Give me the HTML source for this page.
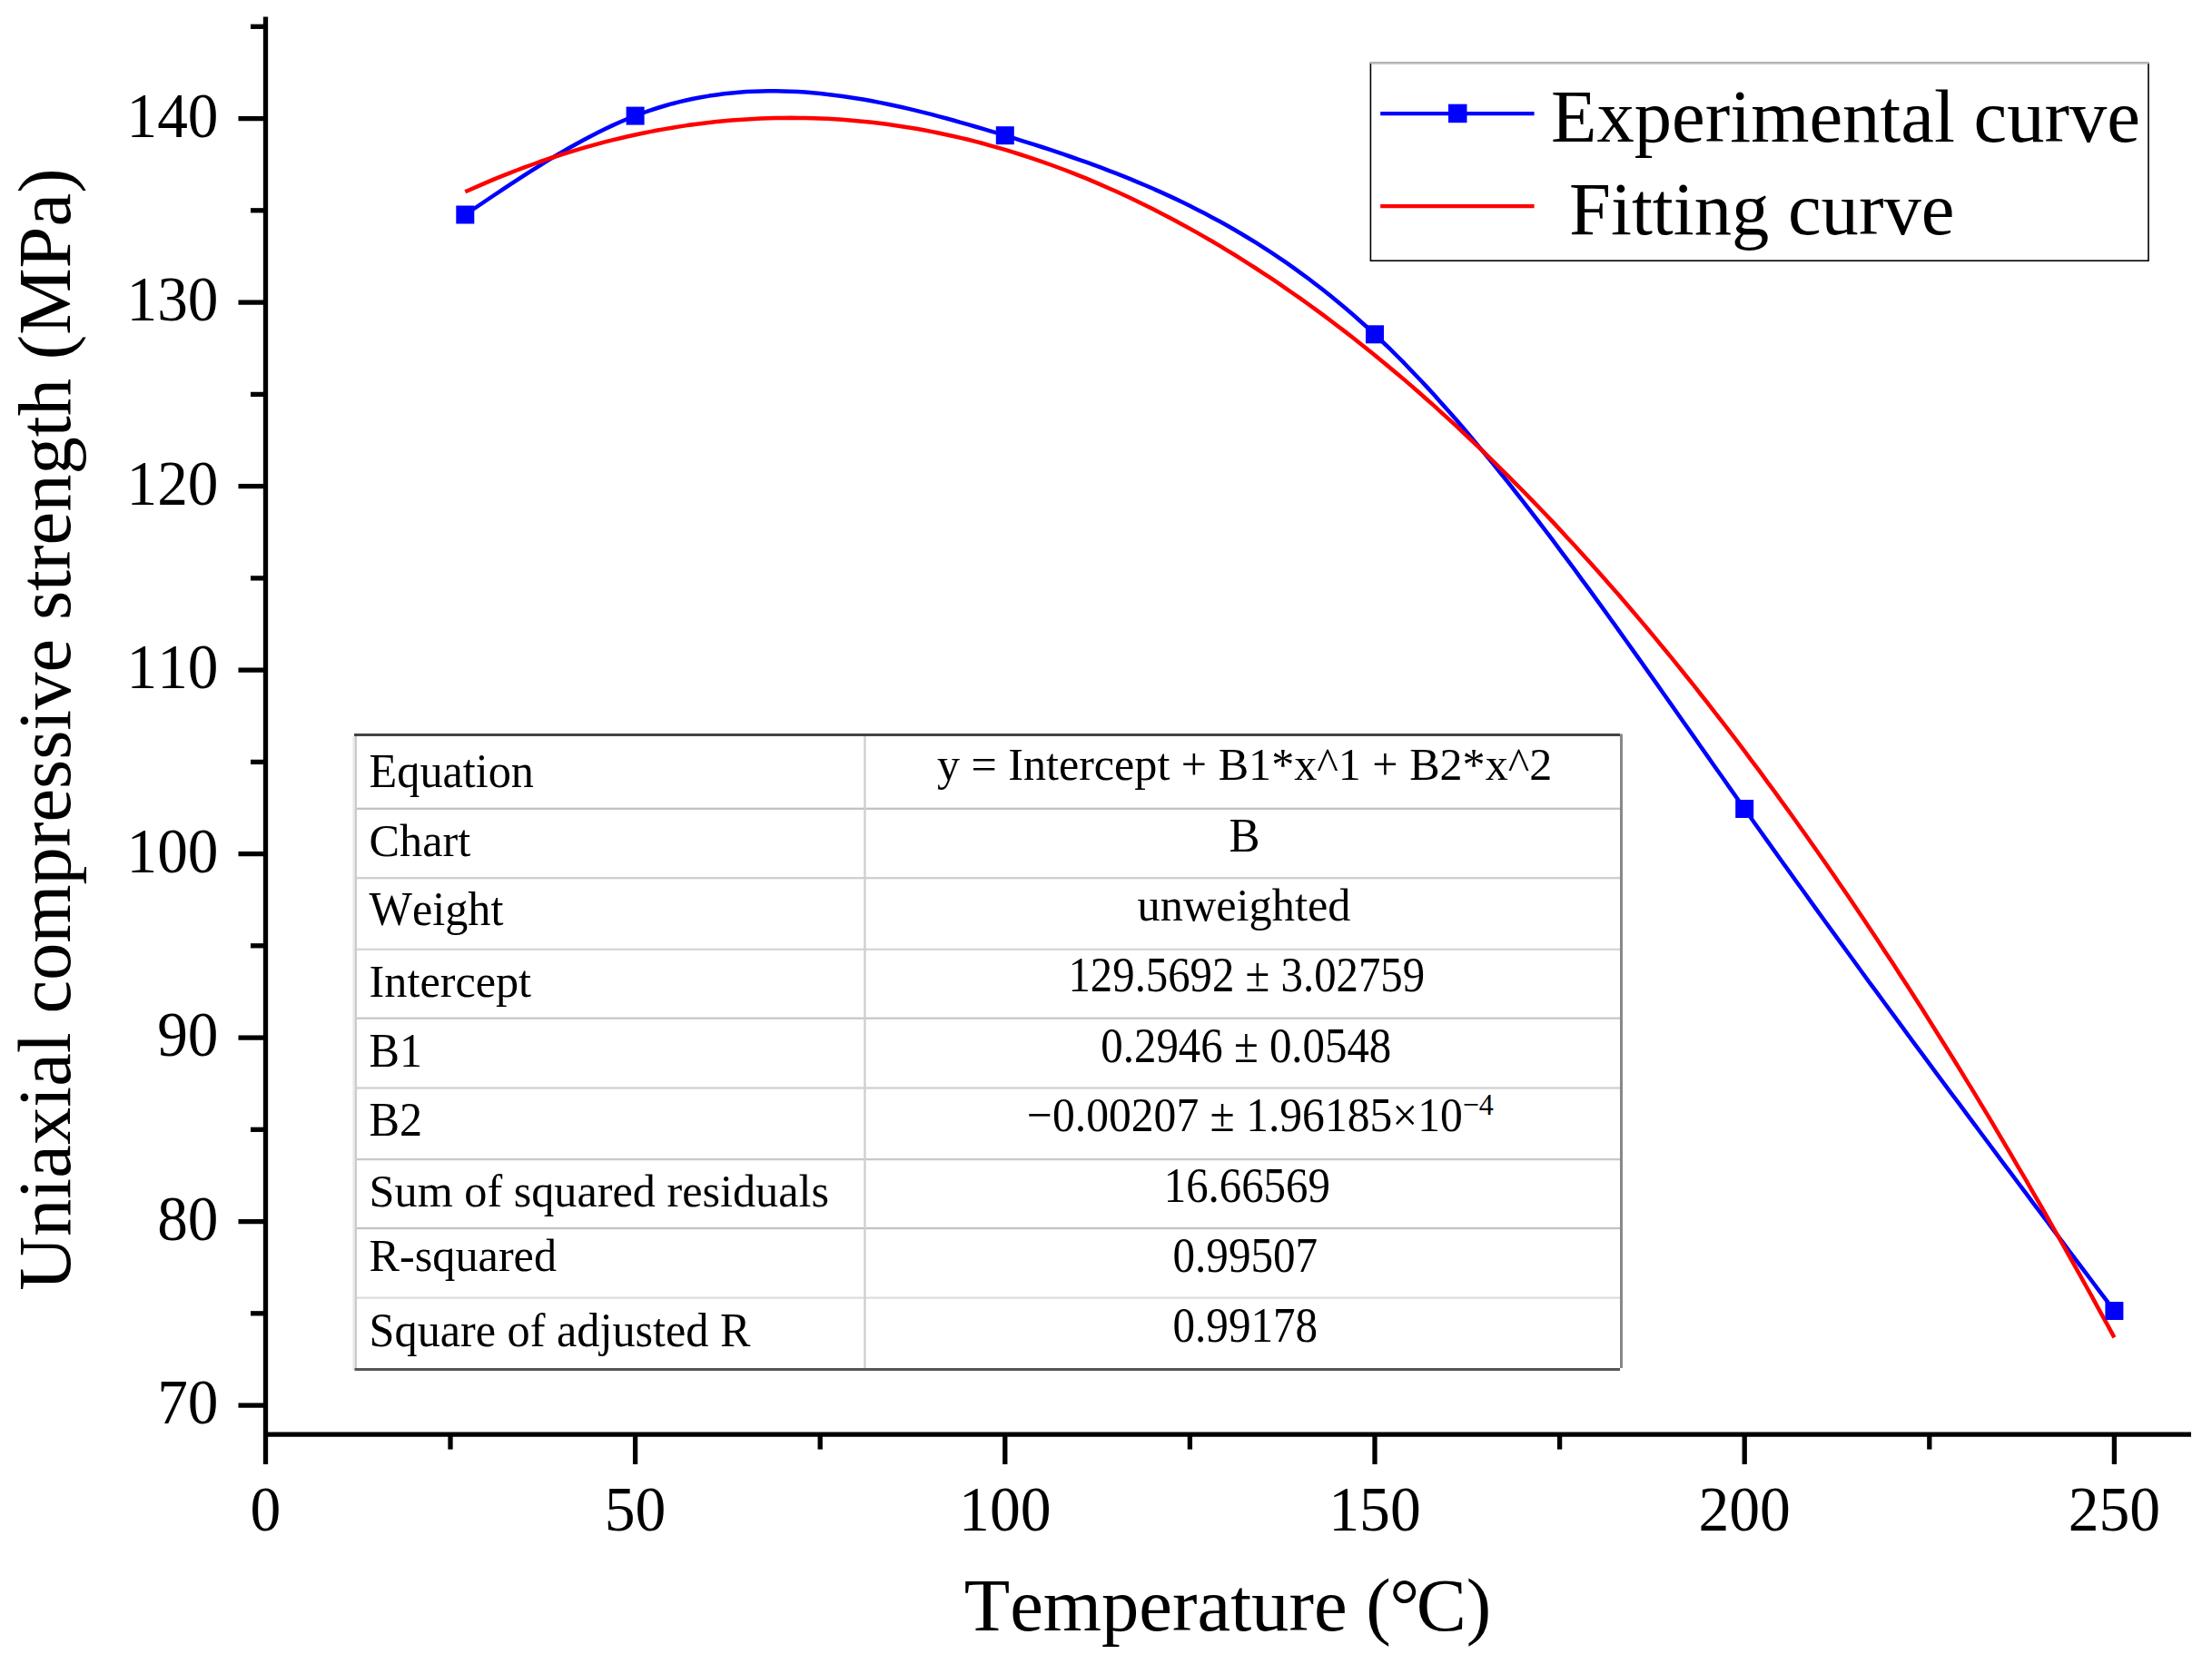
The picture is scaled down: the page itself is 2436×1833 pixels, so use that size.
<!DOCTYPE html>
<html lang="en">
<head>
<meta charset="utf-8">
<title>Uniaxial compressive strength vs temperature</title>
<style>
html,body{margin:0;padding:0;background:#fff;}
body{width:2436px;height:1833px;overflow:hidden;}
svg{display:block;}
text{font-family:"Liberation Serif","Noto Serif CJK SC",serif;fill:#000;font-kerning:none;}
.tick{font-size:69px;}
.title{font-size:82.6px;}
.leg{font-size:82.6px;}
.tb{font-size:51px;}
</style>
</head>
<body>
<svg width="2436" height="1833" viewBox="0 0 2436 1833">
<rect x="0" y="0" width="2436" height="1833" fill="#ffffff"/>

<g stroke="#000" stroke-width="5.3" fill="none">
<line x1="292.5" y1="18.6" x2="292.5" y2="1613"/>
<line x1="290" y1="1580.2" x2="2413" y2="1580.2"/>
<line x1="262.5" y1="1548.1" x2="292" y2="1548.1"/>
<line x1="276" y1="1446.8" x2="292" y2="1446.8"/>
<line x1="262.5" y1="1345.6" x2="292" y2="1345.6"/>
<line x1="276" y1="1244.3" x2="292" y2="1244.3"/>
<line x1="262.5" y1="1143.1" x2="292" y2="1143.1"/>
<line x1="276" y1="1041.8" x2="292" y2="1041.8"/>
<line x1="262.5" y1="940.6" x2="292" y2="940.6"/>
<line x1="276" y1="839.4" x2="292" y2="839.4"/>
<line x1="262.5" y1="738.1" x2="292" y2="738.1"/>
<line x1="276" y1="636.9" x2="292" y2="636.9"/>
<line x1="262.5" y1="535.6" x2="292" y2="535.6"/>
<line x1="276" y1="434.4" x2="292" y2="434.4"/>
<line x1="262.5" y1="333.1" x2="292" y2="333.1"/>
<line x1="276" y1="231.8" x2="292" y2="231.8"/>
<line x1="262.5" y1="130.6" x2="292" y2="130.6"/>
<line x1="276" y1="29.3" x2="292" y2="29.3"/>
<line x1="496.0" y1="1580" x2="496.0" y2="1596.6"/>
<line x1="699.6" y1="1580" x2="699.6" y2="1613"/>
<line x1="903.2" y1="1580" x2="903.2" y2="1596.6"/>
<line x1="1106.8" y1="1580" x2="1106.8" y2="1613"/>
<line x1="1310.4" y1="1580" x2="1310.4" y2="1596.6"/>
<line x1="1514.0" y1="1580" x2="1514.0" y2="1613"/>
<line x1="1717.6" y1="1580" x2="1717.6" y2="1596.6"/>
<line x1="1921.2" y1="1580" x2="1921.2" y2="1613"/>
<line x1="2124.8" y1="1580" x2="2124.8" y2="1596.6"/>
<line x1="2328.4" y1="1580" x2="2328.4" y2="1613"/>
</g>
<g class="tick">
<text transform="translate(240.5,1568.3) scale(0.975,1)" text-anchor="end">70</text>
<text transform="translate(240.5,1365.8) scale(0.975,1)" text-anchor="end">80</text>
<text transform="translate(240.5,1163.3) scale(0.975,1)" text-anchor="end">90</text>
<text transform="translate(240.5,960.8) scale(0.975,1)" text-anchor="end">100</text>
<text transform="translate(240.5,758.3) scale(0.975,1)" text-anchor="end">110</text>
<text transform="translate(240.5,555.8) scale(0.975,1)" text-anchor="end">120</text>
<text transform="translate(240.5,353.3) scale(0.975,1)" text-anchor="end">130</text>
<text transform="translate(240.5,150.8) scale(0.975,1)" text-anchor="end">140</text>
<text transform="translate(292.4,1686.0) scale(0.98,1)" text-anchor="middle">0</text>
<text transform="translate(699.6,1686.0) scale(0.98,1)" text-anchor="middle">50</text>
<text transform="translate(1106.8,1686.0) scale(0.98,1)" text-anchor="middle">100</text>
<text transform="translate(1514.0,1686.0) scale(0.98,1)" text-anchor="middle">150</text>
<text transform="translate(1921.2,1686.0) scale(0.98,1)" text-anchor="middle">200</text>
<text transform="translate(2328.4,1686.0) scale(0.98,1)" text-anchor="middle">250</text>
</g>
<text class="title" transform="translate(1061.7,1795.7) scale(1,1)">Temperature (<tspan dx="-1.5">°</tspan><tspan dx="-3.5">C</tspan>)</text>
<text class="title" transform="translate(77.3,803.5) rotate(-90)" text-anchor="middle">Uniaxial compressive strength (MPa)</text>
<path d="M512.3,236.5 L520.4,231.0 L528.6,225.5 L536.7,220.0 L544.9,214.5 L553.0,209.1 L561.2,203.7 L569.3,198.4 L577.4,193.1 L585.6,187.9 L593.7,182.8 L601.9,177.7 L610.0,172.8 L618.2,168.0 L626.3,163.3 L634.4,158.7 L642.6,154.2 L650.7,149.9 L658.9,145.8 L667.0,141.8 L675.2,137.9 L683.3,134.3 L691.5,130.8 L699.6,127.6 L707.7,124.5 L715.9,121.6 L724.0,119.0 L732.2,116.5 L740.3,114.2 L748.5,112.1 L756.6,110.2 L764.8,108.5 L772.9,107.0 L781.0,105.6 L789.2,104.4 L797.3,103.3 L805.5,102.4 L813.6,101.7 L821.8,101.1 L829.9,100.7 L838.0,100.4 L846.2,100.3 L854.3,100.3 L862.5,100.4 L870.6,100.7 L878.8,101.1 L886.9,101.6 L895.1,102.3 L903.2,103.0 L911.3,103.9 L919.5,104.9 L927.6,106.0 L935.8,107.2 L943.9,108.4 L952.1,109.8 L960.2,111.3 L968.4,112.9 L976.5,114.5 L984.6,116.2 L992.8,118.0 L1000.9,119.9 L1009.1,121.9 L1017.2,123.9 L1025.4,125.9 L1033.5,128.1 L1041.6,130.2 L1049.8,132.5 L1057.9,134.8 L1066.1,137.1 L1074.2,139.5 L1082.4,141.9 L1090.5,144.3 L1098.7,146.7 L1106.8,149.2 L1114.9,151.7 L1123.1,154.3 L1131.2,156.8 L1139.4,159.4 L1147.5,162.0 L1155.7,164.7 L1163.8,167.4 L1172.0,170.2 L1180.1,173.0 L1188.2,175.8 L1196.4,178.7 L1204.5,181.7 L1212.7,184.7 L1220.8,187.8 L1229.0,190.9 L1237.1,194.1 L1245.2,197.4 L1253.4,200.8 L1261.5,204.2 L1269.7,207.8 L1277.8,211.4 L1286.0,215.1 L1294.1,218.9 L1302.3,222.8 L1310.4,226.8 L1318.5,230.9 L1326.7,235.1 L1334.8,239.4 L1343.0,243.8 L1351.1,248.3 L1359.3,253.0 L1367.4,257.8 L1375.6,262.7 L1383.7,267.7 L1391.8,272.9 L1400.0,278.2 L1408.1,283.6 L1416.3,289.2 L1424.4,294.9 L1432.6,300.8 L1440.7,306.8 L1448.8,313.0 L1457.0,319.3 L1465.1,325.8 L1473.3,332.5 L1481.4,339.3 L1489.6,346.3 L1497.7,353.5 L1505.9,360.8 L1514.0,368.3 L1522.1,376.0 L1530.3,383.9 L1538.4,392.0 L1546.6,400.2 L1554.7,408.7 L1562.9,417.2 L1571.0,425.9 L1579.2,434.8 L1587.3,443.9 L1595.4,453.0 L1603.6,462.3 L1611.7,471.8 L1619.9,481.4 L1628.0,491.1 L1636.2,501.0 L1644.3,510.9 L1652.4,521.0 L1660.6,531.2 L1668.7,541.5 L1676.9,551.9 L1685.0,562.4 L1693.2,573.0 L1701.3,583.7 L1709.5,594.4 L1717.6,605.3 L1725.7,616.2 L1733.9,627.2 L1742.0,638.3 L1750.2,649.4 L1758.3,660.6 L1766.5,671.9 L1774.6,683.2 L1782.8,694.6 L1790.9,706.0 L1799.0,717.4 L1807.2,728.9 L1815.3,740.4 L1823.5,751.9 L1831.6,763.5 L1839.8,775.1 L1847.9,786.7 L1856.0,798.3 L1864.2,809.9 L1872.3,821.5 L1880.5,833.1 L1888.6,844.7 L1896.8,856.3 L1904.9,867.9 L1913.1,879.5 L1921.2,891.0 L1929.3,902.5 L1937.5,914.0 L1945.6,925.4 L1953.8,936.9 L1961.9,948.3 L1970.1,959.6 L1978.2,971.0 L1986.4,982.3 L1994.5,993.6 L2002.6,1004.9 L2010.8,1016.2 L2018.9,1027.4 L2027.1,1038.6 L2035.2,1049.8 L2043.4,1061.0 L2051.5,1072.2 L2059.6,1083.3 L2067.8,1094.4 L2075.9,1105.5 L2084.1,1116.6 L2092.2,1127.7 L2100.4,1138.8 L2108.5,1149.8 L2116.7,1160.8 L2124.8,1171.8 L2132.9,1182.8 L2141.1,1193.8 L2149.2,1204.8 L2157.4,1215.7 L2165.5,1226.7 L2173.7,1237.6 L2181.8,1248.5 L2190.0,1259.5 L2198.1,1270.4 L2206.2,1281.3 L2214.4,1292.1 L2222.5,1303.0 L2230.7,1313.9 L2238.8,1324.8 L2247.0,1335.6 L2255.1,1346.5 L2263.2,1357.3 L2271.4,1368.2 L2279.5,1379.0 L2287.7,1389.9 L2295.8,1400.7 L2304.0,1411.5 L2312.1,1422.4 L2320.3,1433.2 L2328.4,1444.0" fill="none" stroke="#0000ff" stroke-width="4.5" stroke-linejoin="round"/>
<path d="M512.3,211.3 L520.4,207.7 L528.6,204.1 L536.7,200.6 L544.9,197.2 L553.0,193.9 L561.2,190.7 L569.3,187.5 L577.4,184.4 L585.6,181.5 L593.7,178.5 L601.9,175.7 L610.0,173.0 L618.2,170.3 L626.3,167.8 L634.4,165.3 L642.6,162.9 L650.7,160.6 L658.9,158.4 L667.0,156.2 L675.2,154.1 L683.3,152.2 L691.5,150.3 L699.6,148.5 L707.7,146.7 L715.9,145.1 L724.0,143.5 L732.2,142.1 L740.3,140.7 L748.5,139.4 L756.6,138.1 L764.8,137.0 L772.9,135.9 L781.0,135.0 L789.2,134.1 L797.3,133.3 L805.5,132.6 L813.6,131.9 L821.8,131.4 L829.9,130.9 L838.0,130.5 L846.2,130.2 L854.3,130.0 L862.5,129.9 L870.6,129.8 L878.8,129.9 L886.9,130.0 L895.1,130.2 L903.2,130.5 L911.3,130.8 L919.5,131.3 L927.6,131.8 L935.8,132.5 L943.9,133.2 L952.1,134.0 L960.2,134.8 L968.4,135.8 L976.5,136.8 L984.6,138.0 L992.8,139.2 L1000.9,140.5 L1009.1,141.8 L1017.2,143.3 L1025.4,144.9 L1033.5,146.5 L1041.6,148.2 L1049.8,150.0 L1057.9,151.9 L1066.1,153.8 L1074.2,155.9 L1082.4,158.0 L1090.5,160.3 L1098.7,162.6 L1106.8,164.9 L1114.9,167.4 L1123.1,170.0 L1131.2,172.6 L1139.4,175.3 L1147.5,178.1 L1155.7,181.0 L1163.8,184.0 L1172.0,187.0 L1180.1,190.2 L1188.2,193.4 L1196.4,196.7 L1204.5,200.1 L1212.7,203.6 L1220.8,207.2 L1229.0,210.8 L1237.1,214.5 L1245.2,218.3 L1253.4,222.2 L1261.5,226.2 L1269.7,230.3 L1277.8,234.4 L1286.0,238.7 L1294.1,243.0 L1302.3,247.4 L1310.4,251.9 L1318.5,256.4 L1326.7,261.1 L1334.8,265.8 L1343.0,270.6 L1351.1,275.6 L1359.3,280.5 L1367.4,285.6 L1375.6,290.8 L1383.7,296.0 L1391.8,301.3 L1400.0,306.7 L1408.1,312.2 L1416.3,317.8 L1424.4,323.5 L1432.6,329.2 L1440.7,335.0 L1448.8,340.9 L1457.0,346.9 L1465.1,353.0 L1473.3,359.2 L1481.4,365.4 L1489.6,371.8 L1497.7,378.2 L1505.9,384.7 L1514.0,391.3 L1522.1,397.9 L1530.3,404.7 L1538.4,411.5 L1546.6,418.4 L1554.7,425.4 L1562.9,432.5 L1571.0,439.7 L1579.2,446.9 L1587.3,454.3 L1595.4,461.7 L1603.6,469.2 L1611.7,476.8 L1619.9,484.5 L1628.0,492.2 L1636.2,500.1 L1644.3,508.0 L1652.4,516.0 L1660.6,524.1 L1668.7,532.3 L1676.9,540.5 L1685.0,548.9 L1693.2,557.3 L1701.3,565.8 L1709.5,574.4 L1717.6,583.1 L1725.7,591.9 L1733.9,600.7 L1742.0,609.7 L1750.2,618.7 L1758.3,627.8 L1766.5,637.0 L1774.6,646.2 L1782.8,655.6 L1790.9,665.0 L1799.0,674.5 L1807.2,684.1 L1815.3,693.8 L1823.5,703.6 L1831.6,713.5 L1839.8,723.4 L1847.9,733.4 L1856.0,743.5 L1864.2,753.7 L1872.3,764.0 L1880.5,774.4 L1888.6,784.8 L1896.8,795.3 L1904.9,805.9 L1913.1,816.6 L1921.2,827.4 L1929.3,838.3 L1937.5,849.2 L1945.6,860.3 L1953.8,871.4 L1961.9,882.6 L1970.1,893.9 L1978.2,905.2 L1986.4,916.7 L1994.5,928.2 L2002.6,939.8 L2010.8,951.5 L2018.9,963.3 L2027.1,975.2 L2035.2,987.1 L2043.4,999.2 L2051.5,1011.3 L2059.6,1023.5 L2067.8,1035.8 L2075.9,1048.2 L2084.1,1060.6 L2092.2,1073.2 L2100.4,1085.8 L2108.5,1098.5 L2116.7,1111.3 L2124.8,1124.2 L2132.9,1137.2 L2141.1,1150.2 L2149.2,1163.3 L2157.4,1176.5 L2165.5,1189.8 L2173.7,1203.2 L2181.8,1216.7 L2190.0,1230.2 L2198.1,1243.9 L2206.2,1257.6 L2214.4,1271.4 L2222.5,1285.3 L2230.7,1299.2 L2238.8,1313.3 L2247.0,1327.4 L2255.1,1341.7 L2263.2,1356.0 L2271.4,1370.3 L2279.5,1384.8 L2287.7,1399.4 L2295.8,1414.0 L2304.0,1428.7 L2312.1,1443.6 L2320.3,1458.4 L2328.4,1473.4" fill="none" stroke="#ff0000" stroke-width="4.5" stroke-linejoin="round"/>
<rect x="502.3" y="226.5" width="20" height="20" fill="#0000ff"/>
<rect x="689.6" y="117.6" width="20" height="20" fill="#0000ff"/>
<rect x="1096.8" y="139.2" width="20" height="20" fill="#0000ff"/>
<rect x="1504.0" y="358.3" width="20" height="20" fill="#0000ff"/>
<rect x="1911.2" y="881.0" width="20" height="20" fill="#0000ff"/>
<rect x="2318.4" y="1434.0" width="20" height="20" fill="#0000ff"/>
<g>
<rect x="1509.4" y="69.4" width="856.6" height="217.8" fill="#fff" stroke="#000" stroke-width="1.6"/>
<line x1="1508.6" y1="69.4" x2="2366.8" y2="69.4" stroke="#c0c0c0" stroke-width="1.8"/>
<line x1="1520.2" y1="125.1" x2="1689.6" y2="125.1" stroke="#0000ff" stroke-width="4.2"/>
<rect x="1595" y="114.7" width="20.5" height="20.5" fill="#0000ff"/>
<line x1="1520.2" y1="227.1" x2="1689.6" y2="227.1" stroke="#ff0000" stroke-width="4.2"/>
<text class="leg" x="1708" y="155.8">Experimental curve</text>
<text class="leg" x="1728" y="258.3">Fitting curve</text>
</g>
<g>
<rect x="390" y="809" width="1395" height="699" fill="#fff"/>
<rect x="393" y="889.65" width="1391" height="2.3" fill="#c2c2c2"/>
<rect x="393" y="966.05" width="1391" height="2.3" fill="#cecece"/>
<rect x="393" y="1044.65" width="1391" height="2.3" fill="#d6d6d6"/>
<rect x="393" y="1120.55" width="1391" height="2.3" fill="#c8c8c8"/>
<rect x="393" y="1197.35" width="1391" height="2.3" fill="#d0d0d0"/>
<rect x="393" y="1275.95" width="1391" height="2.3" fill="#c8c8c8"/>
<rect x="393" y="1351.85" width="1391" height="2.3" fill="#c2c2c2"/>
<rect x="393" y="1428.45" width="1391" height="2.3" fill="#dedede"/>
<rect x="951.2" y="811" width="2.4" height="696" fill="#d0d0d0"/>
<rect x="388.4" y="811" width="2.3" height="698" fill="#e9e9e9"/>
<rect x="390.7" y="811" width="2.3" height="696" fill="#cbcbcb"/>
<rect x="1784" y="808.5" width="3" height="698.5" fill="#888"/>
<rect x="390" y="808" width="1394" height="3" fill="#444"/>
<rect x="390.5" y="1507" width="1393.5" height="3" fill="#555"/>
<g class="tb">
<text transform="translate(406.6,867.4) scale(0.985,1.05)">Equation</text>
<text transform="translate(406.6,942.6) scale(0.985,1.0)">Chart</text>
<text transform="translate(406.6,1018.8) scale(0.985,1.02)">Weight</text>
<text transform="translate(406.6,1097.8) scale(0.985,1.0)">Intercept</text>
<text transform="translate(406.6,1174.6) scale(0.985,1.03)">B1</text>
<text transform="translate(406.6,1250.5) scale(0.985,1.03)">B2</text>
<text transform="translate(406.6,1329.2) scale(0.985,1.0)">Sum of squared residuals</text>
<text transform="translate(406.6,1400.2) scale(0.985,1.0)">R-squared</text>
<text transform="translate(406.6,1483.0) scale(0.985,1.02)">Square of adjusted R</text>
<text transform="translate(1370.6,859.2) scale(0.983,1.0)" text-anchor="middle">y = Intercept + B1*x^1 + B2*x^2</text>
<text transform="translate(1370.6,937.6) scale(1.0,1.05)" text-anchor="middle">B</text>
<text transform="translate(1370.0,1013.8) scale(0.987,1.0)" text-anchor="middle">unweighted</text>
<text transform="translate(1372.8,1092.2) scale(0.957,1.07)" text-anchor="middle">129.5692 ± 3.02759</text>
<text transform="translate(1372.3,1170.2) scale(0.958,1.07)" text-anchor="middle">0.2946 ± 0.0548</text>
<text transform="translate(1388.0,1246.0) scale(0.972,1.04)" text-anchor="middle">−0.00207 ± 1.96185×10<tspan dy="-17" font-size="33">−4</tspan></text>
<text transform="translate(1373.3,1323.9) scale(0.958,1.07)" text-anchor="middle">16.66569</text>
<text transform="translate(1371.3,1401.2) scale(0.963,1.07)" text-anchor="middle">0.99507</text>
<text transform="translate(1371.3,1477.7) scale(0.963,1.07)" text-anchor="middle">0.99178</text>
</g></g>
</svg>
</body>
</html>
